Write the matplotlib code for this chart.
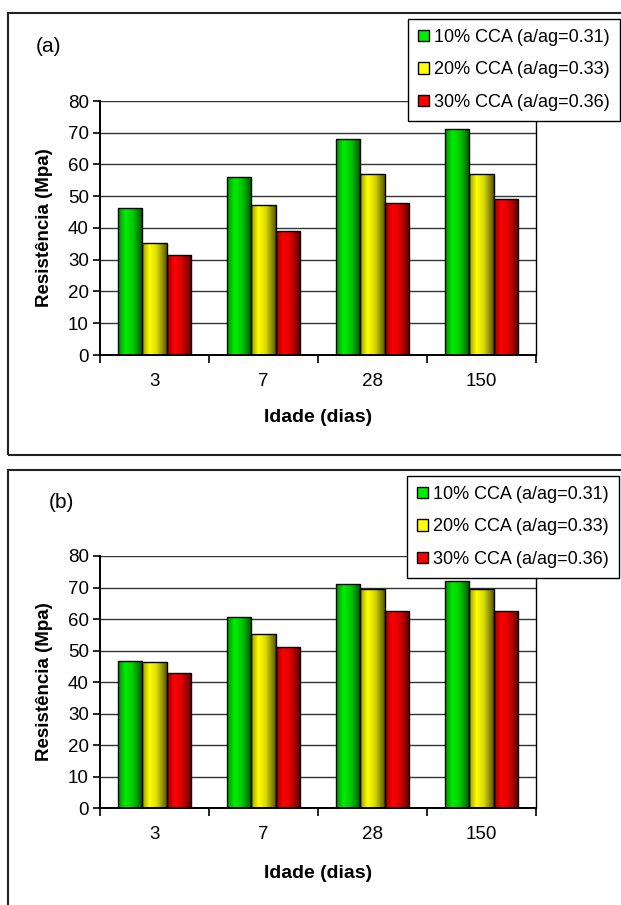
import numpy as np
import matplotlib
matplotlib.use("Agg")
import matplotlib.pyplot as plt
from matplotlib.patches import Patch, Rectangle

plt.rcParams['font.family'] = ['Liberation Sans', 'DejaVu Sans']

# Data
idades = ['3', '7', '28', '150']
series = ['10% CCA (a/ag=0.31)', '20% CCA (a/ag=0.33)', '30% CCA (a/ag=0.36)']
cores = [(0.0, 0.93, 0.0), (1.0, 1.0, 0.0), (1.0, 0.0, 0.0)]

res_a_10 = [46.2, 56.2, 68.1, 71.3]
res_a_20 = [35.2, 47.1, 57.1, 57.1]
res_a_30 = [31.5, 39.0, 48.0, 49.1]

res_b_10 = [46.8, 60.6, 71.2, 72.1]
res_b_20 = [46.3, 55.2, 69.6, 69.6]
res_b_30 = [43.0, 51.1, 62.6, 62.6]


def shade_bar(ax, bar, rgb):
    # horizontal gradient inside a bar, clipped to the bar outline
    x, y = bar.get_xy()
    w, h = bar.get_width(), bar.get_height()
    prof = np.interp(np.linspace(0, 1, 64), [0, 0.3, 0.6, 1], [0.6, 1.0, 0.85, 0.35])
    img = np.clip(np.array(rgb)[None, None, :] * prof[None, :, None], 0, 1)
    im = ax.imshow(img, extent=[x, x + w, y, y + h], aspect='auto',
                   interpolation='bilinear', zorder=2)
    im.set_clip_path(bar)
    bar.set_facecolor('none')


def painel(fig, rect, valores, letra, leg_xy, frame_y, xlab_y):
    # outer frame of the panel
    fig.patches.append(Rectangle((8 / 621, frame_y[0]), 1.0, frame_y[1] - frame_y[0],
                                 transform=fig.transFigure, fill=False,
                                 edgecolor='#222222', linewidth=1.5, zorder=0))
    ax = fig.add_axes(rect)
    n = len(idades)
    larg = 1 / 4.5
    x = np.arange(n)
    for i, (vals, cor) in enumerate(zip(valores, cores)):
        bars = ax.bar(x + (i - 1) * larg, vals, width=larg, color=cor,
                      edgecolor='black', linewidth=1.0, zorder=3)
        for b in bars:
            shade_bar(ax, b, cor)

    ax.set_xlim(-0.5, n - 0.5)
    ax.set_ylim(0, 80)
    ax.set_yticks(np.arange(0, 81, 10))
    ax.yaxis.grid(True, color='#333333', linewidth=1.0)
    ax.set_axisbelow(True)

    ax.set_xticks(np.arange(-0.5, n, 1.0))
    ax.set_xticklabels([])
    ax.set_xticks(x, minor=True)
    ax.set_xticklabels(idades, minor=True)
    ax.tick_params(axis='x', which='minor', length=0, pad=13, labelsize=13.5)
    ax.tick_params(axis='x', which='major', length=6, width=1.2, direction='out')
    ax.tick_params(axis='y', length=5, width=1.2, labelsize=13.5, pad=3)

    ax.spines['top'].set_visible(False)
    for s in ['left', 'bottom']:
        ax.spines[s].set_linewidth(1.4)
    ax.spines['right'].set_linewidth(1.0)

    ax.set_xlabel('Idade (dias)', fontsize=14, fontweight='bold', va='center')
    ax.set_ylabel('Resistência (Mpa)', fontsize=13.5, fontweight='bold', va='center')
    ax.xaxis.set_label_coords(0.5, xlab_y)
    ax.yaxis.set_label_coords(-0.128, 0.5)

    fig.text(letra[1], letra[2], letra[0], fontsize=15, va='center', ha='left')

    handles = [Patch(facecolor=c, edgecolor='black', linewidth=1.0) for c in cores]
    leg = fig.legend(handles, series, loc='upper left', bbox_to_anchor=leg_xy,
                     bbox_transform=fig.transFigure, fontsize=13, frameon=True,
                     fancybox=False, edgecolor='black', framealpha=1,
                     handlelength=0.6, handleheight=0.6, handletextpad=0.3,
                     labelspacing=0.86, borderpad=0.55, borderaxespad=0)
    leg.get_frame().set_linewidth(1.0)
    leg.set_zorder(10)
    return ax


fig = plt.figure(figsize=(6.21, 9.05), dpi=100)

painel(fig, [100 / 621, 1 - 355 / 905, 436 / 621, 254 / 905],
       [res_a_10, res_a_20, res_a_30], ('(a)', 36 / 621, 1 - 47 / 905),
       (408 / 621, 1 - 19 / 905), (1 - 455 / 905, 1 - 13 / 905), -0.248)

painel(fig, [100 / 621, 1 - 808 / 905, 436 / 621, 252 / 905],
       [res_b_10, res_b_20, res_b_30], ('(b)', 49 / 621, 1 - 503 / 905),
       (407 / 621, 1 - 476 / 905), (-0.1, 1 - 470 / 905), -0.258)

fig.savefig('out.png', dpi=100)
